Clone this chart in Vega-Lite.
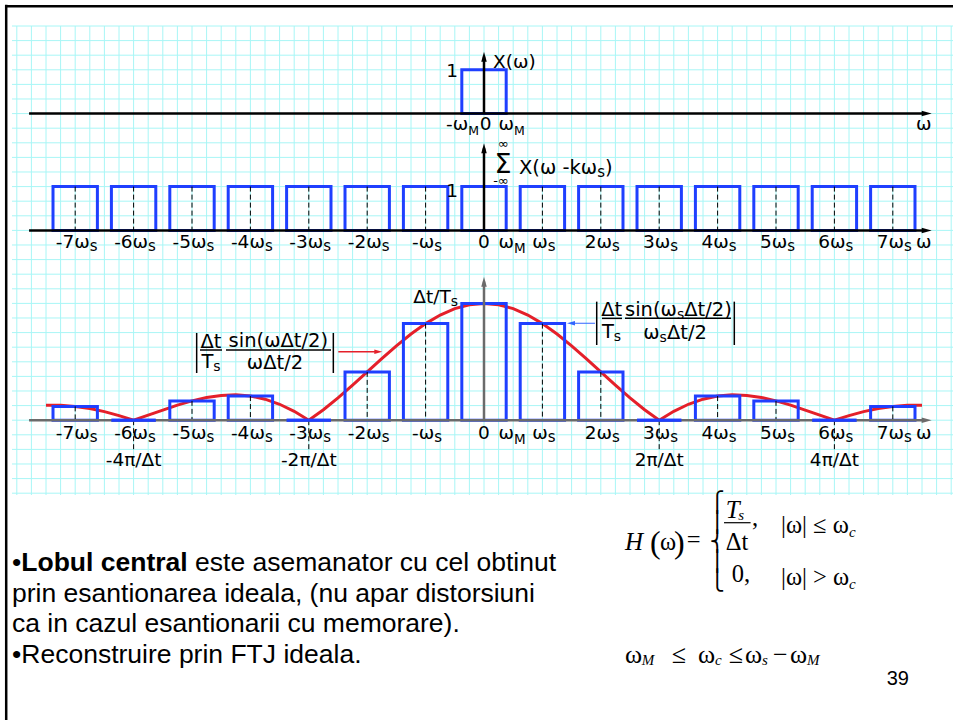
{
"$schema": "https://vega.github.io/schema/vega-lite/v6.json",
"width": 941,
"height": 469,
"autosize": {"type": "none"},
"padding": {"left": 12, "top": 26, "right": 0, "bottom": 225},
"background": "white",
"config": {"view": {"stroke": null}},
"data": {"values": [{}]},
"datasets": {
"gx": [{"w":-8},{"w":-7.75},{"w":-7.5},{"w":-7.25},{"w":-7},{"w":-6.75},{"w":-6.5},{"w":-6.25},{"w":-6},{"w":-5.75},{"w":-5.5},{"w":-5.25},{"w":-5},{"w":-4.75},{"w":-4.5},{"w":-4.25},{"w":-4},{"w":-3.75},{"w":-3.5},{"w":-3.25},{"w":-3},{"w":-2.75},{"w":-2.5},{"w":-2.25},{"w":-2},{"w":-1.75},{"w":-1.5},{"w":-1.25},{"w":-1},{"w":-0.75},{"w":-0.5},{"w":-0.25},{"w":0},{"w":0.25},{"w":0.5},{"w":0.75},{"w":1},{"w":1.25},{"w":1.5},{"w":1.75},{"w":2},{"w":2.25},{"w":2.5},{"w":2.75},{"w":3},{"w":3.25},{"w":3.5},{"w":3.75},{"w":4},{"w":4.25},{"w":4.5},{"w":4.75},{"w":5},{"w":5.25},{"w":5.5},{"w":5.75},{"w":6},{"w":6.25},{"w":6.5},{"w":6.75},{"w":7},{"w":7.25},{"w":7.5},{"w":7.75},{"w":8}],
"gy": [{"g":0},{"g":1},{"g":2},{"g":3},{"g":4},{"g":5},{"g":6},{"g":7},{"g":8},{"g":9},{"g":10},{"g":11},{"g":12},{"g":13},{"g":14},{"g":15},{"g":16},{"g":17},{"g":18},{"g":19},{"g":20},{"g":21},{"g":22},{"g":23},{"g":24},{"g":25},{"g":26},{"g":27},{"g":28},{"g":29},{"g":30},{"g":31},{"g":32}],
"x1": [{"lo":-0.38,"hi":0.38,"a":1}],
"rep": [{"k":-7,"lo":-7.38,"hi":-6.62,"a":1},{"k":-6,"lo":-6.38,"hi":-5.62,"a":1},{"k":-5,"lo":-5.38,"hi":-4.62,"a":1},{"k":-4,"lo":-4.38,"hi":-3.62,"a":1},{"k":-3,"lo":-3.38,"hi":-2.62,"a":1},{"k":-2,"lo":-2.38,"hi":-1.62,"a":1},{"k":-1,"lo":-1.38,"hi":-0.62,"a":1},{"k":0,"lo":-0.38,"hi":0.38,"a":1},{"k":1,"lo":0.62,"hi":1.38,"a":1},{"k":2,"lo":1.62,"hi":2.38,"a":1},{"k":3,"lo":2.62,"hi":3.38,"a":1},{"k":4,"lo":3.62,"hi":4.38,"a":1},{"k":5,"lo":4.62,"hi":5.38,"a":1},{"k":6,"lo":5.62,"hi":6.38,"a":1},{"k":7,"lo":6.62,"hi":7.38,"a":1}],
"samp": [{"k":-7,"lo":-7.38,"hi":-6.62,"a":0.11814},{"k":-6,"lo":-6.38,"hi":-5.62,"a":0},{"k":-5,"lo":-5.38,"hi":-4.62,"a":0.1654},{"k":-4,"lo":-4.38,"hi":-3.62,"a":0.20675},{"k":-3,"lo":-3.38,"hi":-2.62,"a":0},{"k":-2,"lo":-2.38,"hi":-1.62,"a":0.4135},{"k":-1,"lo":-1.38,"hi":-0.62,"a":0.82699},{"k":0,"lo":-0.38,"hi":0.38,"a":1},{"k":1,"lo":0.62,"hi":1.38,"a":0.82699},{"k":2,"lo":1.62,"hi":2.38,"a":0.4135},{"k":3,"lo":2.62,"hi":3.38,"a":0},{"k":4,"lo":3.62,"hi":4.38,"a":0.20675},{"k":5,"lo":4.62,"hi":5.38,"a":0.1654},{"k":6,"lo":5.62,"hi":6.38,"a":0},{"k":7,"lo":6.62,"hi":7.38,"a":0.11814}],
"env": [{"w":-7.5,"a":0.12732},{"w":-7.25,"a":0.12723},{"w":-7,"a":0.11814},{"w":-6.75,"a":0.10004},{"w":-6.5,"a":0.07346},{"w":-6.25,"a":0.03954},{"w":-6,"a":0},{"w":-5.75,"a":0.04298},{"w":-5.5,"a":0.08681},{"w":-5.25,"a":0.12862},{"w":-5,"a":0.1654},{"w":-4.75,"a":0.19419},{"w":-4.5,"a":0.21221},{"w":-4.25,"a":0.21703},{"w":-4,"a":0.20675},{"w":-3.75,"a":0.18006},{"w":-3.5,"a":0.13642},{"w":-3.25,"a":0.07605},{"w":-3,"a":0},{"w":-2.75,"a":0.08987},{"w":-2.5,"a":0.19099},{"w":-2.25,"a":0.30011},{"w":-2,"a":0.4135},{"w":-1.75,"a":0.52708},{"w":-1.5,"a":0.63662},{"w":-1.25,"a":0.73791},{"w":-1,"a":0.82699},{"w":-0.75,"a":0.90032},{"w":-0.5,"a":0.95493},{"w":-0.25,"a":0.98862},{"w":0,"a":1},{"w":0.25,"a":0.98862},{"w":0.5,"a":0.95493},{"w":0.75,"a":0.90032},{"w":1,"a":0.82699},{"w":1.25,"a":0.73791},{"w":1.5,"a":0.63662},{"w":1.75,"a":0.52708},{"w":2,"a":0.4135},{"w":2.25,"a":0.30011},{"w":2.5,"a":0.19099},{"w":2.75,"a":0.08987},{"w":3,"a":0},{"w":3.25,"a":0.07605},{"w":3.5,"a":0.13642},{"w":3.75,"a":0.18006},{"w":4,"a":0.20675},{"w":4.25,"a":0.21703},{"w":4.5,"a":0.21221},{"w":4.75,"a":0.19419},{"w":5,"a":0.1654},{"w":5.25,"a":0.12862},{"w":5.5,"a":0.08681},{"w":5.75,"a":0.04298},{"w":6,"a":0},{"w":6.25,"a":0.03954},{"w":6.5,"a":0.07346},{"w":6.75,"a":0.10004},{"w":7,"a":0.11814},{"w":7.25,"a":0.12723},{"w":7.5,"a":0.12732}],
"km": [{"w":-7,"t":"-7ω"},{"w":-6,"t":"-6ω"},{"w":-5,"t":"-5ω"},{"w":-4,"t":"-4ω"},{"w":-3,"t":"-3ω"},{"w":-2,"t":"-2ω"},{"w":-1,"t":"-ω"},{"w":1,"t":"ω"},{"w":2,"t":"2ω"},{"w":3,"t":"3ω"},{"w":4,"t":"4ω"},{"w":5,"t":"5ω"},{"w":6,"t":"6ω"},{"w":7,"t":"7ω"}],
"kA": [{"w":-7},{"w":-6},{"w":-5},{"w":-4},{"w":-3},{"w":-2}],
"kB": [{"w":2},{"w":3},{"w":4},{"w":5},{"w":6},{"w":7}],
"kC": [{"w":-1}],
"kD": [{"w":1}],
"l1": [{"w":0,"t":"0"},{"w":7.53,"t":"ω"}],
"l0": [{"w":0.03,"t":"0"},{"w":7.53,"t":"ω"}],
"m1": [{"w":-0.27,"t":"-ω"},{"w":0.514,"t":"ω"}],
"m2": [{"w":0.514,"t":"ω"}],
"pil": [{"w":-6,"t":"-4π/Δt"},{"w":-3,"t":"-2π/Δt"},{"w":3,"t":"2π/Δt"},{"w":6,"t":"4π/Δt"}],
"ann3": [{"w":-4.675,"a":0.618,"t":"Δt"},{"w":-3.522,"a":0.627,"t":"sin(ωΔt/2)"},{"w":-3.579,"a":0.438,"t":"ωΔt/2"},{"w":2.187,"a":0.888,"t":"Δt"}],
"tsj": [{"w":-4.635,"a":0.447},{"w":2.223,"a":0.704}],
"fr": [{"w":-4.863,"w2":-4.486,"a":0.601},{"w":-4.418,"w2":-2.62,"a":0.601},{"w":2.021,"w2":2.363,"a":0.872},{"w":2.414,"w2":4.229,"a":0.872}],
"ab": [{"w":-4.92,"a":0.404,"a2":0.747},{"w":-2.58,"a":0.404,"a2":0.747},{"w":1.93,"a":0.644,"a2":1.015},{"w":4.286,"a":0.644,"a2":1.015}],
"nr": [{"w":-8.082,"line":1,"t":"•"},{"w":-4.947,"line":1,"t":"este asemanator cu cel obtinut"},{"w":-8.082,"line":2,"t":"prin esantionarea ideala, (nu apar distorsiuni"},{"w":-8.082,"line":3,"t":"ca in cazul esantionarii cu memorare)."},{"w":-8.082,"line":4,"t":"•Reconstruire prin FTJ ideala."}],
"nb": [{"w":-7.923,"line":1,"t":"Lobul central"}],
"eqN": [{"w":3.471,"line":0.241,"t":"="},{"w":4.14,"line":0.316,"t":"Δt"},{"w":4.589,"line":-0.466,"t":","},{"w":5.086,"line":-0.238,"t":"|ω| ≤ ω"},{"w":4.241,"line":1.349,"t":"0,"},{"w":5.086,"line":1.456,"t":"|ω| > ω"},{"w":3.014,"line":0.316,"t":"ω"}],
"eqB": [{"w":2.414,"line":4.007,"t":"ω"},{"w":3.214,"line":4.007,"t":"≤"},{"w":3.664,"line":4.007,"t":"ω"},{"w":4.19,"line":4.007,"t":"≤"},{"w":4.469,"line":4.007,"t":"ω"},{"w":4.949,"line":4.007,"t":"−"},{"w":5.24,"line":4.007,"t":"ω"}],
"eqP": [{"w":2.842,"line":0.414,"t":"("},{"w":3.253,"line":0.414,"t":")"}],
"eqI": [{"w":2.414,"line":0.316,"t":"H"},{"w":4.14,"line":-0.726,"t":"T"}],
"eqS": [{"w":4.354,"line":-0.661,"t":"s"},{"w":6.25,"line":-0.108,"t":"c"},{"w":6.25,"line":1.586,"t":"c"},{"w":2.7,"line":4.06,"t":"M"},{"w":3.955,"line":4.06,"t":"c"},{"w":4.76,"line":4.06,"t":"s"},{"w":5.531,"line":4.06,"t":"M"}]
},
"resolve": {"scale": {"y": "independent"}},
"layer": [
{"layer": [
 {"data": {"name": "gx"}, "mark": {"type": "rule", "color": "#a8f6f6", "strokeWidth": 1},
  "encoding": {"x": {"field": "w", "type": "quantitative", "scale": {"domain": [-8.0822, 8.0308]}, "axis": null}}},
 {"data": {"name": "gy"}, "mark": {"type": "rule", "color": "#a8f6f6", "strokeWidth": 1},
  "encoding": {"y": {"field": "g", "type": "quantitative", "scale": {"domain": [-0.1233, 32]}, "axis": null}}},
 {"mark": {"type": "rule", "color": "black", "strokeWidth": 2.5},
  "encoding": {"x": {"datum": -8.2, "type": "quantitative", "scale": {"domain": [-8.0822, 8.0308]}, "axis": null}, "x2": {"datum": 8.2},
   "y": {"datum": 33.356, "type": "quantitative", "scale": {"domain": [-0.1233, 32]}, "axis": null}}},
 {"mark": {"type": "rule", "color": "black", "strokeWidth": 2.5},
  "encoding": {"x": {"datum": -8.1815, "type": "quantitative", "scale": {"domain": [-8.0822, 8.0308]}, "axis": null},
   "y": {"datum": 33.45, "type": "quantitative", "scale": {"domain": [-0.1233, 32]}, "axis": null}, "y2": {"datum": -16}}}
]},
{"layer": [
 {"data": {"name": "x1"}, "mark": {"type": "rect", "fill": "transparent", "stroke": "#1f3fff", "strokeWidth": 3},
  "encoding": {"x": {"field": "lo", "type": "quantitative", "scale": {"domain": [-8.0822, 8.0308]}, "axis": null}, "x2": {"field": "hi"},
   "y": {"field": "a", "type": "quantitative", "scale": {"domain": [-8.7078, 2]}, "axis": null}, "y2": {"datum": 0}}},
 {"mark": {"type": "rule", "color": "black", "strokeWidth": 2.5},
  "encoding": {"x": {"datum": -7.79, "type": "quantitative", "scale": {"domain": [-8.0822, 8.0308]}, "axis": null}, "x2": {"datum": 7.55},
   "y": {"datum": 0, "type": "quantitative", "scale": {"domain": [-8.7078, 2]}, "axis": null}}},
 {"mark": {"type": "rule", "color": "black", "strokeWidth": 2.5},
  "encoding": {"x": {"datum": 0, "type": "quantitative", "scale": {"domain": [-8.0822, 8.0308]}, "axis": null},
   "y": {"datum": 0, "type": "quantitative", "scale": {"domain": [-8.7078, 2]}, "axis": null}, "y2": {"datum": 1.3}}},
 {"mark": {"type": "point", "shape": "M-1,-0.55L1,0L-1,0.55Z", "filled": true, "color": "black", "opacity": 1, "size": 100, "strokeWidth": 0},
  "encoding": {"x": {"datum": 7.58, "type": "quantitative", "scale": {"domain": [-8.0822, 8.0308]}, "axis": null},
   "y": {"datum": 0, "type": "quantitative", "scale": {"domain": [-8.7078, 2]}, "axis": null}}},
 {"mark": {"type": "point", "shape": "M-0.55,1L0,-1L0.55,1Z", "filled": true, "color": "black", "opacity": 1, "size": 100, "strokeWidth": 0},
  "encoding": {"x": {"datum": 0, "type": "quantitative", "scale": {"domain": [-8.0822, 8.0308]}, "axis": null},
   "y": {"datum": 1.299, "type": "quantitative", "scale": {"domain": [-8.7078, 2]}, "axis": null}}},
 {"data": {"name": "l0"}, "mark": {"type": "text", "font": "DejaVu Sans", "fontSize": 18.5, "align": "center", "baseline": "alphabetic", "color": "black"},
  "encoding": {"x": {"field": "w", "type": "quantitative", "scale": {"domain": [-8.0822, 8.0308]}, "axis": null},
   "y": {"datum": -0.385, "type": "quantitative", "scale": {"domain": [-8.7078, 2]}, "axis": null}, "text": {"field": "t"}}},
 {"data": {"name": "m1"}, "mark": {"type": "text", "font": "DejaVu Sans", "fontSize": 18.5, "align": "right", "baseline": "alphabetic", "color": "black"},
  "encoding": {"x": {"field": "w", "type": "quantitative", "scale": {"domain": [-8.0822, 8.0308]}, "axis": null},
   "y": {"datum": -0.374, "type": "quantitative", "scale": {"domain": [-8.7078, 2]}, "axis": null}, "text": {"field": "t"}}},
 {"data": {"name": "m1"}, "mark": {"type": "text", "font": "DejaVu Sans", "fontSize": 12.5, "align": "left", "baseline": "alphabetic", "color": "black"},
  "encoding": {"x": {"field": "w", "type": "quantitative", "scale": {"domain": [-8.0822, 8.0308]}, "axis": null},
   "y": {"datum": -0.5, "type": "quantitative", "scale": {"domain": [-8.7078, 2]}, "axis": null}, "text": {"value": "M"}}},
 {"mark": {"type": "text", "font": "DejaVu Sans", "fontSize": 18.5, "align": "right", "baseline": "alphabetic", "color": "black"},
  "encoding": {"x": {"datum": -0.445, "type": "quantitative", "scale": {"domain": [-8.0822, 8.0308]}, "axis": null},
   "y": {"datum": 0.847, "type": "quantitative", "scale": {"domain": [-8.7078, 2]}, "axis": null}, "text": {"value": "1"}}},
 {"mark": {"type": "text", "font": "DejaVu Sans", "fontSize": 18.5, "align": "left", "baseline": "alphabetic", "color": "black"},
  "encoding": {"x": {"datum": 0.154, "type": "quantitative", "scale": {"domain": [-8.0822, 8.0308]}, "axis": null},
   "y": {"datum": 1.041, "type": "quantitative", "scale": {"domain": [-8.7078, 2]}, "axis": null}, "text": {"value": "X(ω)"}}}
]},
{"layer": [
 {"data": {"name": "rep"}, "mark": {"type": "rect", "fill": "transparent", "stroke": "#1f3fff", "strokeWidth": 3},
  "encoding": {"x": {"field": "lo", "type": "quantitative", "scale": {"domain": [-8.0822, 8.0308]}, "axis": null}, "x2": {"field": "hi"},
   "y": {"field": "a", "type": "quantitative", "scale": {"domain": [-6.0411, 4.6667]}, "axis": null}, "y2": {"datum": 0}}},
 {"data": {"name": "rep"}, "transform": [{"filter": "datum.k != 0"}], "mark": {"type": "rule", "color": "black", "strokeWidth": 1, "strokeDash": [5, 3]},
  "encoding": {"x": {"field": "k", "type": "quantitative", "scale": {"domain": [-8.0822, 8.0308]}, "axis": null},
   "y": {"field": "a", "type": "quantitative", "scale": {"domain": [-6.0411, 4.6667]}, "axis": null}, "y2": {"datum": 0}}},
 {"mark": {"type": "rule", "color": "black", "strokeWidth": 2.5},
  "encoding": {"x": {"datum": -7.79, "type": "quantitative", "scale": {"domain": [-8.0822, 8.0308]}, "axis": null}, "x2": {"datum": 7.55},
   "y": {"datum": 0, "type": "quantitative", "scale": {"domain": [-6.0411, 4.6667]}, "axis": null}}},
 {"mark": {"type": "rule", "color": "black", "strokeWidth": 2.5},
  "encoding": {"x": {"datum": 0, "type": "quantitative", "scale": {"domain": [-8.0822, 8.0308]}, "axis": null},
   "y": {"datum": 0, "type": "quantitative", "scale": {"domain": [-6.0411, 4.6667]}, "axis": null}, "y2": {"datum": 1.874}}},
 {"mark": {"type": "point", "shape": "M-1,-0.55L1,0L-1,0.55Z", "filled": true, "color": "black", "opacity": 1, "size": 100, "strokeWidth": 0},
  "encoding": {"x": {"datum": 7.58, "type": "quantitative", "scale": {"domain": [-8.0822, 8.0308]}, "axis": null},
   "y": {"datum": 0, "type": "quantitative", "scale": {"domain": [-6.0411, 4.6667]}, "axis": null}}},
 {"mark": {"type": "point", "shape": "M-0.55,1L0,-1L0.55,1Z", "filled": true, "color": "black", "opacity": 1, "size": 100, "strokeWidth": 0},
  "encoding": {"x": {"datum": 0, "type": "quantitative", "scale": {"domain": [-8.0822, 8.0308]}, "axis": null},
   "y": {"datum": 1.874, "type": "quantitative", "scale": {"domain": [-6.0411, 4.6667]}, "axis": null}}},
 {"data": {"name": "km"}, "mark": {"type": "text", "font": "DejaVu Sans", "fontSize": 18.5, "align": "center", "baseline": "alphabetic", "color": "black", "dx": -2.5},
  "encoding": {"x": {"field": "w", "type": "quantitative", "scale": {"domain": [-8.0822, 8.0308]}, "axis": null},
   "y": {"datum": -0.402, "type": "quantitative", "scale": {"domain": [-6.0411, 4.6667]}, "axis": null}, "text": {"field": "t"}}},
 {"data": {"name": "kA"}, "mark": {"type": "text", "font": "DejaVu Sans", "fontSize": 15, "align": "left", "baseline": "alphabetic", "color": "black", "dx": 14.5, "dy": 3},
  "encoding": {"x": {"field": "w", "type": "quantitative", "scale": {"domain": [-8.0822, 8.0308]}, "axis": null},
   "y": {"datum": -0.402, "type": "quantitative", "scale": {"domain": [-6.0411, 4.6667]}, "axis": null}, "text": {"value": "s"}}},
 {"data": {"name": "kB"}, "mark": {"type": "text", "font": "DejaVu Sans", "fontSize": 15, "align": "left", "baseline": "alphabetic", "color": "black", "dx": 11.15, "dy": 3},
  "encoding": {"x": {"field": "w", "type": "quantitative", "scale": {"domain": [-8.0822, 8.0308]}, "axis": null},
   "y": {"datum": -0.402, "type": "quantitative", "scale": {"domain": [-6.0411, 4.6667]}, "axis": null}, "text": {"value": "s"}}},
 {"data": {"name": "kC"}, "mark": {"type": "text", "font": "DejaVu Sans", "fontSize": 15, "align": "left", "baseline": "alphabetic", "color": "black", "dx": 8.6, "dy": 3},
  "encoding": {"x": {"field": "w", "type": "quantitative", "scale": {"domain": [-8.0822, 8.0308]}, "axis": null},
   "y": {"datum": -0.402, "type": "quantitative", "scale": {"domain": [-6.0411, 4.6667]}, "axis": null}, "text": {"value": "s"}}},
 {"data": {"name": "kD"}, "mark": {"type": "text", "font": "DejaVu Sans", "fontSize": 15, "align": "left", "baseline": "alphabetic", "color": "black", "dx": 5.3, "dy": 3},
  "encoding": {"x": {"field": "w", "type": "quantitative", "scale": {"domain": [-8.0822, 8.0308]}, "axis": null},
   "y": {"datum": -0.402, "type": "quantitative", "scale": {"domain": [-6.0411, 4.6667]}, "axis": null}, "text": {"value": "s"}}},
 {"data": {"name": "l1"}, "mark": {"type": "text", "font": "DejaVu Sans", "fontSize": 18.5, "align": "center", "baseline": "alphabetic", "color": "black"},
  "encoding": {"x": {"field": "w", "type": "quantitative", "scale": {"domain": [-8.0822, 8.0308]}, "axis": null},
   "y": {"datum": -0.402, "type": "quantitative", "scale": {"domain": [-6.0411, 4.6667]}, "axis": null}, "text": {"field": "t"}}},
 {"data": {"name": "m2"}, "mark": {"type": "text", "font": "DejaVu Sans", "fontSize": 18.5, "align": "right", "baseline": "alphabetic", "color": "black"},
  "encoding": {"x": {"field": "w", "type": "quantitative", "scale": {"domain": [-8.0822, 8.0308]}, "axis": null},
   "y": {"datum": -0.402, "type": "quantitative", "scale": {"domain": [-6.0411, 4.6667]}, "axis": null}, "text": {"field": "t"}}},
 {"data": {"name": "m2"}, "mark": {"type": "text", "font": "DejaVu Sans", "fontSize": 13.5, "align": "left", "baseline": "alphabetic", "color": "black"},
  "encoding": {"x": {"field": "w", "type": "quantitative", "scale": {"domain": [-8.0822, 8.0308]}, "axis": null},
   "y": {"datum": -0.516, "type": "quantitative", "scale": {"domain": [-6.0411, 4.6667]}, "axis": null}, "text": {"value": "M"}}},
 {"mark": {"type": "text", "font": "DejaVu Sans", "fontSize": 18.5, "align": "right", "baseline": "alphabetic", "color": "black"},
  "encoding": {"x": {"datum": -0.445, "type": "quantitative", "scale": {"domain": [-8.0822, 8.0308]}, "axis": null},
   "y": {"datum": 0.77, "type": "quantitative", "scale": {"domain": [-6.0411, 4.6667]}, "axis": null}, "text": {"value": "1"}}},
 {"mark": {"type": "text", "font": "DejaVu Sans", "fontSize": 27, "align": "center", "baseline": "alphabetic", "color": "black"},
  "encoding": {"x": {"datum": 0.325, "type": "quantitative", "scale": {"domain": [-8.0822, 8.0308]}, "axis": null},
   "y": {"datum": 1.3, "type": "quantitative", "scale": {"domain": [-6.0411, 4.6667]}, "axis": null}, "text": {"value": "Σ"}}},
 {"mark": {"type": "text", "font": "DejaVu Sans", "fontSize": 13, "align": "center", "baseline": "alphabetic", "color": "black"},
  "encoding": {"x": {"datum": 0.33, "type": "quantitative", "scale": {"domain": [-8.0822, 8.0308]}, "axis": null},
   "y": {"datum": 1.88, "type": "quantitative", "scale": {"domain": [-6.0411, 4.6667]}, "axis": null}, "text": {"value": "∞"}}},
 {"mark": {"type": "text", "font": "DejaVu Sans", "fontSize": 13, "align": "center", "baseline": "alphabetic", "color": "black"},
  "encoding": {"x": {"datum": 0.29, "type": "quantitative", "scale": {"domain": [-8.0822, 8.0308]}, "axis": null},
   "y": {"datum": 1.03, "type": "quantitative", "scale": {"domain": [-6.0411, 4.6667]}, "axis": null}, "text": {"value": "-∞"}}},
 {"mark": {"type": "text", "font": "DejaVu Sans", "fontSize": 19.5, "align": "left", "baseline": "alphabetic", "color": "black"},
  "encoding": {"x": {"datum": 0.599, "type": "quantitative", "scale": {"domain": [-8.0822, 8.0308]}, "axis": null},
   "y": {"datum": 1.288, "type": "quantitative", "scale": {"domain": [-6.0411, 4.6667]}, "axis": null}, "text": {"value": "X(ω -kω"}}},
 {"mark": {"type": "text", "font": "DejaVu Sans", "fontSize": 15, "align": "left", "baseline": "alphabetic", "color": "black", "dx": 78.3, "dy": 3},
  "encoding": {"x": {"datum": 0.599, "type": "quantitative", "scale": {"domain": [-8.0822, 8.0308]}, "axis": null},
   "y": {"datum": 1.288, "type": "quantitative", "scale": {"domain": [-6.0411, 4.6667]}, "axis": null}, "text": {"value": "s"}}},
 {"mark": {"type": "text", "font": "DejaVu Sans", "fontSize": 19.5, "align": "left", "baseline": "alphabetic", "color": "black", "dx": 86.1},
  "encoding": {"x": {"datum": 0.599, "type": "quantitative", "scale": {"domain": [-8.0822, 8.0308]}, "axis": null},
   "y": {"datum": 1.288, "type": "quantitative", "scale": {"domain": [-6.0411, 4.6667]}, "axis": null}, "text": {"value": ")"}}}
]},
{"layer": [
 {"data": {"name": "env"}, "mark": {"type": "line", "color": "#e4202a", "strokeWidth": 3},
  "encoding": {"x": {"field": "w", "type": "quantitative", "scale": {"domain": [-8.0822, 8.0308]}, "axis": null},
   "y": {"field": "a", "type": "quantitative", "scale": {"domain": [-0.6404, 3.375]}, "axis": null}}},
 {"data": {"name": "samp"}, "mark": {"type": "rect", "fill": "transparent", "stroke": "#1f3fff", "strokeWidth": 3},
  "encoding": {"x": {"field": "lo", "type": "quantitative", "scale": {"domain": [-8.0822, 8.0308]}, "axis": null}, "x2": {"field": "hi"},
   "y": {"field": "a", "type": "quantitative", "scale": {"domain": [-0.6404, 3.375]}, "axis": null}, "y2": {"datum": 0}}},
 {"data": {"name": "samp"}, "transform": [{"filter": "datum.k != 0 && datum.a > 0"}], "mark": {"type": "rule", "color": "black", "strokeWidth": 1, "strokeDash": [5, 3]},
  "encoding": {"x": {"field": "k", "type": "quantitative", "scale": {"domain": [-8.0822, 8.0308]}, "axis": null},
   "y": {"field": "a", "type": "quantitative", "scale": {"domain": [-0.6404, 3.375]}, "axis": null}, "y2": {"datum": 0}}},
 {"data": {"name": "pil"}, "mark": {"type": "rule", "color": "black", "strokeWidth": 1, "strokeDash": [5, 3]},
  "encoding": {"x": {"field": "w", "type": "quantitative", "scale": {"domain": [-8.0822, 8.0308]}, "axis": null},
   "y": {"datum": 0, "type": "quantitative", "scale": {"domain": [-0.6404, 3.375]}, "axis": null}, "y2": {"datum": -0.27}}},
 {"mark": {"type": "rule", "color": "#6b6b6b", "strokeWidth": 2.5},
  "encoding": {"x": {"datum": -7.79, "type": "quantitative", "scale": {"domain": [-8.0822, 8.0308]}, "axis": null}, "x2": {"datum": 7.55},
   "y": {"datum": 0, "type": "quantitative", "scale": {"domain": [-0.6404, 3.375]}, "axis": null}}},
 {"mark": {"type": "rule", "color": "#6b6b6b", "strokeWidth": 2.5},
  "encoding": {"x": {"datum": 0, "type": "quantitative", "scale": {"domain": [-8.0822, 8.0308]}, "axis": null},
   "y": {"datum": 0, "type": "quantitative", "scale": {"domain": [-0.6404, 3.375]}, "axis": null}, "y2": {"datum": 1.186}}},
 {"data": {"name": "samp"}, "transform": [{"filter": "datum.a == 0"}], "mark": {"type": "rule", "color": "#1f3fff", "strokeWidth": 3},
  "encoding": {"x": {"field": "lo", "type": "quantitative", "scale": {"domain": [-8.0822, 8.0308]}, "axis": null}, "x2": {"field": "hi"},
   "y": {"datum": 0, "type": "quantitative", "scale": {"domain": [-0.6404, 3.375]}, "axis": null}}},
 {"mark": {"type": "point", "shape": "M-1,-0.55L1,0L-1,0.55Z", "filled": true, "color": "#6b6b6b", "opacity": 1, "size": 100, "strokeWidth": 0},
  "encoding": {"x": {"datum": 7.58, "type": "quantitative", "scale": {"domain": [-8.0822, 8.0308]}, "axis": null},
   "y": {"datum": 0, "type": "quantitative", "scale": {"domain": [-0.6404, 3.375]}, "axis": null}}},
 {"mark": {"type": "point", "shape": "M-0.55,1L0,-1L0.55,1Z", "filled": true, "color": "#6b6b6b", "opacity": 1, "size": 100, "strokeWidth": 0},
  "encoding": {"x": {"datum": 0, "type": "quantitative", "scale": {"domain": [-8.0822, 8.0308]}, "axis": null},
   "y": {"datum": 1.186, "type": "quantitative", "scale": {"domain": [-0.6404, 3.375]}, "axis": null}}},
 {"data": {"name": "km"}, "mark": {"type": "text", "font": "DejaVu Sans", "fontSize": 18.5, "align": "center", "baseline": "alphabetic", "color": "black", "dx": -2.5},
  "encoding": {"x": {"field": "w", "type": "quantitative", "scale": {"domain": [-8.0822, 8.0308]}, "axis": null},
   "y": {"datum": -0.157, "type": "quantitative", "scale": {"domain": [-0.6404, 3.375]}, "axis": null}, "text": {"field": "t"}}},
 {"data": {"name": "kA"}, "mark": {"type": "text", "font": "DejaVu Sans", "fontSize": 15, "align": "left", "baseline": "alphabetic", "color": "black", "dx": 14.5, "dy": 3},
  "encoding": {"x": {"field": "w", "type": "quantitative", "scale": {"domain": [-8.0822, 8.0308]}, "axis": null},
   "y": {"datum": -0.157, "type": "quantitative", "scale": {"domain": [-0.6404, 3.375]}, "axis": null}, "text": {"value": "s"}}},
 {"data": {"name": "kB"}, "mark": {"type": "text", "font": "DejaVu Sans", "fontSize": 15, "align": "left", "baseline": "alphabetic", "color": "black", "dx": 11.15, "dy": 3},
  "encoding": {"x": {"field": "w", "type": "quantitative", "scale": {"domain": [-8.0822, 8.0308]}, "axis": null},
   "y": {"datum": -0.157, "type": "quantitative", "scale": {"domain": [-0.6404, 3.375]}, "axis": null}, "text": {"value": "s"}}},
 {"data": {"name": "kC"}, "mark": {"type": "text", "font": "DejaVu Sans", "fontSize": 15, "align": "left", "baseline": "alphabetic", "color": "black", "dx": 8.6, "dy": 3},
  "encoding": {"x": {"field": "w", "type": "quantitative", "scale": {"domain": [-8.0822, 8.0308]}, "axis": null},
   "y": {"datum": -0.157, "type": "quantitative", "scale": {"domain": [-0.6404, 3.375]}, "axis": null}, "text": {"value": "s"}}},
 {"data": {"name": "kD"}, "mark": {"type": "text", "font": "DejaVu Sans", "fontSize": 15, "align": "left", "baseline": "alphabetic", "color": "black", "dx": 5.3, "dy": 3},
  "encoding": {"x": {"field": "w", "type": "quantitative", "scale": {"domain": [-8.0822, 8.0308]}, "axis": null},
   "y": {"datum": -0.157, "type": "quantitative", "scale": {"domain": [-0.6404, 3.375]}, "axis": null}, "text": {"value": "s"}}},
 {"data": {"name": "l1"}, "mark": {"type": "text", "font": "DejaVu Sans", "fontSize": 18.5, "align": "center", "baseline": "alphabetic", "color": "black"},
  "encoding": {"x": {"field": "w", "type": "quantitative", "scale": {"domain": [-8.0822, 8.0308]}, "axis": null},
   "y": {"datum": -0.157, "type": "quantitative", "scale": {"domain": [-0.6404, 3.375]}, "axis": null}, "text": {"field": "t"}}},
 {"data": {"name": "m2"}, "mark": {"type": "text", "font": "DejaVu Sans", "fontSize": 18.5, "align": "right", "baseline": "alphabetic", "color": "black"},
  "encoding": {"x": {"field": "w", "type": "quantitative", "scale": {"domain": [-8.0822, 8.0308]}, "axis": null},
   "y": {"datum": -0.157, "type": "quantitative", "scale": {"domain": [-0.6404, 3.375]}, "axis": null}, "text": {"field": "t"}}},
 {"data": {"name": "m2"}, "mark": {"type": "text", "font": "DejaVu Sans", "fontSize": 13.5, "align": "left", "baseline": "alphabetic", "color": "black"},
  "encoding": {"x": {"field": "w", "type": "quantitative", "scale": {"domain": [-8.0822, 8.0308]}, "axis": null},
   "y": {"datum": -0.2, "type": "quantitative", "scale": {"domain": [-0.6404, 3.375]}, "axis": null}, "text": {"value": "M"}}},
 {"data": {"name": "pil"}, "mark": {"type": "text", "font": "DejaVu Sans", "fontSize": 18.5, "align": "center", "baseline": "alphabetic", "color": "black"},
  "encoding": {"x": {"field": "w", "type": "quantitative", "scale": {"domain": [-8.0822, 8.0308]}, "axis": null},
   "y": {"datum": -0.392, "type": "quantitative", "scale": {"domain": [-0.6404, 3.375]}, "axis": null}, "text": {"field": "t"}}},
 {"mark": {"type": "text", "font": "DejaVu Sans", "fontSize": 18.5, "align": "right", "baseline": "alphabetic", "color": "black"},
  "encoding": {"x": {"datum": -0.57, "type": "quantitative", "scale": {"domain": [-8.0822, 8.0308]}, "axis": null},
   "y": {"datum": 1.003, "type": "quantitative", "scale": {"domain": [-0.6404, 3.375]}, "axis": null}, "text": {"value": "Δt/T"}}},
 {"mark": {"type": "text", "font": "DejaVu Sans", "fontSize": 14, "align": "left", "baseline": "alphabetic", "color": "black", "dy": 3},
  "encoding": {"x": {"datum": -0.57, "type": "quantitative", "scale": {"domain": [-8.0822, 8.0308]}, "axis": null},
   "y": {"datum": 1.003, "type": "quantitative", "scale": {"domain": [-0.6404, 3.375]}, "axis": null}, "text": {"value": "s"}}},
 {"data": {"name": "ann3"}, "mark": {"type": "text", "font": "DejaVu Sans", "fontSize": 19.5, "align": "center", "baseline": "alphabetic", "color": "black"},
  "encoding": {"x": {"field": "w", "type": "quantitative", "scale": {"domain": [-8.0822, 8.0308]}, "axis": null},
   "y": {"field": "a", "type": "quantitative", "scale": {"domain": [-0.6404, 3.375]}, "axis": null}, "text": {"field": "t"}}},
 {"data": {"name": "tsj"}, "mark": {"type": "text", "font": "DejaVu Sans", "fontSize": 19.5, "align": "right", "baseline": "alphabetic", "color": "black"},
  "encoding": {"x": {"field": "w", "type": "quantitative", "scale": {"domain": [-8.0822, 8.0308]}, "axis": null},
   "y": {"field": "a", "type": "quantitative", "scale": {"domain": [-0.6404, 3.375]}, "axis": null}, "text": {"value": "T"}}},
 {"data": {"name": "tsj"}, "mark": {"type": "text", "font": "DejaVu Sans", "fontSize": 14, "align": "left", "baseline": "alphabetic", "color": "black", "dy": 3},
  "encoding": {"x": {"field": "w", "type": "quantitative", "scale": {"domain": [-8.0822, 8.0308]}, "axis": null},
   "y": {"field": "a", "type": "quantitative", "scale": {"domain": [-0.6404, 3.375]}, "axis": null}, "text": {"value": "s"}}},
 {"mark": {"type": "text", "font": "DejaVu Sans", "fontSize": 19.5, "align": "left", "baseline": "alphabetic", "color": "black"},
  "encoding": {"x": {"datum": 2.414, "type": "quantitative", "scale": {"domain": [-8.0822, 8.0308]}, "axis": null},
   "y": {"datum": 0.892, "type": "quantitative", "scale": {"domain": [-0.6404, 3.375]}, "axis": null}, "text": {"value": "sin(ω"}}},
 {"mark": {"type": "text", "font": "DejaVu Sans", "fontSize": 14, "align": "left", "baseline": "alphabetic", "color": "black", "dx": 51.9, "dy": 3},
  "encoding": {"x": {"datum": 2.414, "type": "quantitative", "scale": {"domain": [-8.0822, 8.0308]}, "axis": null},
   "y": {"datum": 0.892, "type": "quantitative", "scale": {"domain": [-0.6404, 3.375]}, "axis": null}, "text": {"value": "s"}}},
 {"mark": {"type": "text", "font": "DejaVu Sans", "fontSize": 19.5, "align": "left", "baseline": "alphabetic", "color": "black", "dx": 59.2},
  "encoding": {"x": {"datum": 2.414, "type": "quantitative", "scale": {"domain": [-8.0822, 8.0308]}, "axis": null},
   "y": {"datum": 0.892, "type": "quantitative", "scale": {"domain": [-0.6404, 3.375]}, "axis": null}, "text": {"value": "Δt/2)"}}},
 {"mark": {"type": "text", "font": "DejaVu Sans", "fontSize": 19.5, "align": "left", "baseline": "alphabetic", "color": "black"},
  "encoding": {"x": {"datum": 2.726, "type": "quantitative", "scale": {"domain": [-8.0822, 8.0308]}, "axis": null},
   "y": {"datum": 0.695, "type": "quantitative", "scale": {"domain": [-0.6404, 3.375]}, "axis": null}, "text": {"value": "ω"}}},
 {"mark": {"type": "text", "font": "DejaVu Sans", "fontSize": 14, "align": "left", "baseline": "alphabetic", "color": "black", "dx": 16.4, "dy": 3},
  "encoding": {"x": {"datum": 2.726, "type": "quantitative", "scale": {"domain": [-8.0822, 8.0308]}, "axis": null},
   "y": {"datum": 0.695, "type": "quantitative", "scale": {"domain": [-0.6404, 3.375]}, "axis": null}, "text": {"value": "s"}}},
 {"mark": {"type": "text", "font": "DejaVu Sans", "fontSize": 19.5, "align": "left", "baseline": "alphabetic", "color": "black", "dx": 23.7},
  "encoding": {"x": {"datum": 2.726, "type": "quantitative", "scale": {"domain": [-8.0822, 8.0308]}, "axis": null},
   "y": {"datum": 0.695, "type": "quantitative", "scale": {"domain": [-0.6404, 3.375]}, "axis": null}, "text": {"value": "Δt/2"}}},
 {"data": {"name": "fr"}, "mark": {"type": "rule", "color": "black", "strokeWidth": 1.5},
  "encoding": {"x": {"field": "w", "type": "quantitative", "scale": {"domain": [-8.0822, 8.0308]}, "axis": null}, "x2": {"field": "w2"},
   "y": {"field": "a", "type": "quantitative", "scale": {"domain": [-0.6404, 3.375]}, "axis": null}}},
 {"data": {"name": "ab"}, "mark": {"type": "rule", "color": "black", "strokeWidth": 1.5},
  "encoding": {"x": {"field": "w", "type": "quantitative", "scale": {"domain": [-8.0822, 8.0308]}, "axis": null},
   "y": {"field": "a", "type": "quantitative", "scale": {"domain": [-0.6404, 3.375]}, "axis": null}, "y2": {"field": "a2"}}},
 {"mark": {"type": "rule", "color": "#e4202a", "strokeWidth": 1.5},
  "encoding": {"x": {"datum": -2.495, "type": "quantitative", "scale": {"domain": [-8.0822, 8.0308]}, "axis": null}, "x2": {"datum": -1.85},
   "y": {"datum": 0.586, "type": "quantitative", "scale": {"domain": [-0.6404, 3.375]}, "axis": null}}},
 {"mark": {"type": "point", "shape": "M-1,-0.55L1,0L-1,0.55Z", "filled": true, "color": "#e4202a", "opacity": 1, "size": 64, "strokeWidth": 0},
  "encoding": {"x": {"datum": -1.81, "type": "quantitative", "scale": {"domain": [-8.0822, 8.0308]}, "axis": null},
   "y": {"datum": 0.586, "type": "quantitative", "scale": {"domain": [-0.6404, 3.375]}, "axis": null}}},
 {"mark": {"type": "rule", "color": "#3366ff", "strokeWidth": 1},
  "encoding": {"x": {"datum": 1.9, "type": "quantitative", "scale": {"domain": [-8.0822, 8.0308]}, "axis": null}, "x2": {"datum": 1.54},
   "y": {"datum": 0.83, "type": "quantitative", "scale": {"domain": [-0.6404, 3.375]}, "axis": null}}},
 {"mark": {"type": "point", "shape": "M1,-0.55L-1,0L1,0.55Z", "filled": true, "color": "#3366ff", "opacity": 1, "size": 64, "strokeWidth": 0},
  "encoding": {"x": {"datum": 1.49, "type": "quantitative", "scale": {"domain": [-8.0822, 8.0308]}, "axis": null},
   "y": {"datum": 0.83, "type": "quantitative", "scale": {"domain": [-0.6404, 3.375]}, "axis": null}}}
]},
{"layer": [
 {"data": {"name": "nr"}, "mark": {"type": "text", "font": "Liberation Sans", "fontSize": 26.5, "align": "left", "baseline": "alphabetic", "color": "black"},
  "encoding": {"x": {"field": "w", "type": "quantitative", "scale": {"domain": [-8.0822, 8.0308]}, "axis": null},
   "y": {"field": "line", "type": "quantitative", "scale": {"domain": [-16.7524, -1.4755], "reverse": true}, "axis": null}, "text": {"field": "t"}}},
 {"data": {"name": "nb"}, "mark": {"type": "text", "font": "Liberation Sans", "fontSize": 26.5, "fontWeight": "bold", "align": "left", "baseline": "alphabetic", "color": "black"},
  "encoding": {"x": {"field": "w", "type": "quantitative", "scale": {"domain": [-8.0822, 8.0308]}, "axis": null},
   "y": {"field": "line", "type": "quantitative", "scale": {"domain": [-16.7524, -1.4755], "reverse": true}, "axis": null}, "text": {"field": "t"}}},
 {"data": {"name": "eqN"}, "mark": {"type": "text", "font": "Liberation Serif", "fontSize": 24.5, "align": "left", "baseline": "alphabetic", "color": "black"},
  "encoding": {"x": {"field": "w", "type": "quantitative", "scale": {"domain": [-8.0822, 8.0308]}, "axis": null},
   "y": {"field": "line", "type": "quantitative", "scale": {"domain": [-16.7524, -1.4755], "reverse": true}, "axis": null}, "text": {"field": "t"}}},
 {"data": {"name": "eqB"}, "mark": {"type": "text", "font": "Liberation Serif", "fontSize": 26, "align": "left", "baseline": "alphabetic", "color": "black"},
  "encoding": {"x": {"field": "w", "type": "quantitative", "scale": {"domain": [-8.0822, 8.0308]}, "axis": null},
   "y": {"field": "line", "type": "quantitative", "scale": {"domain": [-16.7524, -1.4755], "reverse": true}, "axis": null}, "text": {"field": "t"}}},
 {"data": {"name": "eqP"}, "mark": {"type": "text", "font": "Liberation Serif", "fontSize": 32, "align": "left", "baseline": "alphabetic", "color": "black"},
  "encoding": {"x": {"field": "w", "type": "quantitative", "scale": {"domain": [-8.0822, 8.0308]}, "axis": null},
   "y": {"field": "line", "type": "quantitative", "scale": {"domain": [-16.7524, -1.4755], "reverse": true}, "axis": null}, "text": {"field": "t"}}},
 {"data": {"name": "eqI"}, "mark": {"type": "text", "font": "Liberation Serif", "fontSize": 25, "fontStyle": "italic", "align": "left", "baseline": "alphabetic", "color": "black"},
  "encoding": {"x": {"field": "w", "type": "quantitative", "scale": {"domain": [-8.0822, 8.0308]}, "axis": null},
   "y": {"field": "line", "type": "quantitative", "scale": {"domain": [-16.7524, -1.4755], "reverse": true}, "axis": null}, "text": {"field": "t"}}},
 {"data": {"name": "eqS"}, "mark": {"type": "text", "font": "Liberation Serif", "fontSize": 15, "fontStyle": "italic", "align": "left", "baseline": "alphabetic", "color": "black"},
  "encoding": {"x": {"field": "w", "type": "quantitative", "scale": {"domain": [-8.0822, 8.0308]}, "axis": null},
   "y": {"field": "line", "type": "quantitative", "scale": {"domain": [-16.7524, -1.4755], "reverse": true}, "axis": null}, "text": {"field": "t"}}},
 {"mark": {"type": "rule", "color": "black", "strokeWidth": 1.2},
  "encoding": {"x": {"datum": 4.11, "type": "quantitative", "scale": {"domain": [-8.0822, 8.0308]}, "axis": null}, "x2": {"datum": 4.565},
   "y": {"datum": -0.573, "type": "quantitative", "scale": {"domain": [-16.7524, -1.4755], "reverse": true}, "axis": null}}},
 {"mark": {"type": "text", "font": "DejaVu Sans", "fontSize": 20, "lineHeight": 19.6, "align": "center", "baseline": "middle", "color": "black"},
  "encoding": {"x": {"datum": 3.99, "type": "quantitative", "scale": {"domain": [-8.0822, 8.0308]}, "axis": null},
   "y": {"datum": -1.215, "type": "quantitative", "scale": {"domain": [-16.7524, -1.4755], "reverse": true}, "axis": null}, "text": {"value": ["⎧", "⎪", "⎨", "⎪", "⎩"]}}},
 {"mark": {"type": "text", "font": "Liberation Sans", "fontSize": 20, "align": "left", "baseline": "alphabetic", "color": "black"},
  "encoding": {"x": {"datum": 6.895, "type": "quantitative", "scale": {"domain": [-8.0822, 8.0308]}, "axis": null},
   "y": {"datum": 4.713, "type": "quantitative", "scale": {"domain": [-16.7524, -1.4755], "reverse": true}, "axis": null}, "text": {"value": "39"}}}
]}
]
}
